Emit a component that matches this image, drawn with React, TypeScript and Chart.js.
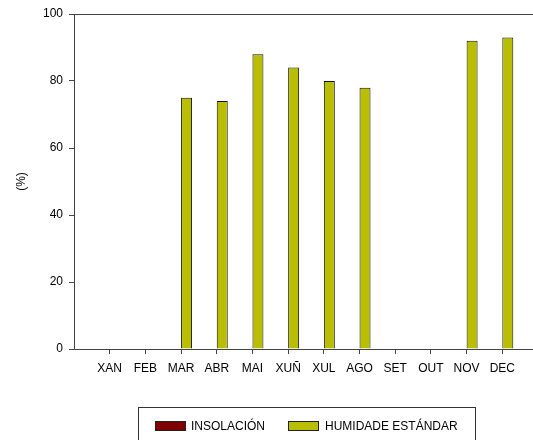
import React, { useEffect, useRef } from "react";
import { Chart, registerables } from "chart.js";

Chart.register(...registerables);

const months = ["XAN", "FEB", "MAR", "ABR", "MAI", "XUÑ", "XUL", "AGO", "SET", "OUT", "NOV", "DEC"];
const insolacion: (number | null)[] = [null, null, null, null, null, null, null, null, null, null, null, null];
const humidade: (number | null)[] = [null, null, 75, 74, 88, 84, 80, 78, null, null, 92, 93];
const yTicks = [0, 20, 40, 60, 80, 100];

const FONT = "'Liberation Sans', Arial, sans-serif";
const AXIS = "#444444";
const RED = "#800000";
const OLIVE = "#B9BF00";

const frameAndLegend = {
  id: "frameAndLegend",
  afterDraw(chart: any) {
    const ctx = chart.ctx as CanvasRenderingContext2D;
    const { left, right, top } = chart.chartArea;
    ctx.save();
    // top frame line
    ctx.strokeStyle = AXIS;
    ctx.lineWidth = 1;
    ctx.beginPath();
    ctx.moveTo(left, Math.round(top) + 0.5);
    ctx.lineTo(right, Math.round(top) + 0.5);
    ctx.stroke();

    // legend box
    ctx.strokeStyle = "#333333";
    ctx.strokeRect(138.5, 407.5, 337, 45);
    ctx.font = "12px " + FONT;
    ctx.textBaseline = "middle";
    ctx.fillStyle = "#000";
    const ds = chart.data.datasets;
    const items = [
      { x: 155, tx: 191 },
      { x: 288, tx: 325 },
    ];
    ds.forEach((d: any, i: number) => {
      const it = items[i];
      ctx.fillStyle = d.backgroundColor;
      ctx.fillRect(it.x, 421, 30, 10);
      ctx.strokeStyle = "#222";
      ctx.strokeRect(it.x + 0.5, 421.5, 30, 9);
      ctx.fillStyle = "#000";
      ctx.fillText(d.label, it.tx, 426.5);
    });
    ctx.restore();
  },
};

export default function App() {
  const ref = useRef<HTMLCanvasElement | null>(null);
  useEffect(() => {
    if (!ref.current) return;
    const labels = ["", ...months, ""];
    const chart = new Chart(ref.current, {
      type: "bar",
      data: {
        labels,
        datasets: [
          {
            label: "INSOLACIÓN",
            data: [null, ...insolacion, null],
            backgroundColor: RED,
            borderColor: "#111",
            borderWidth: 1,
          },
          {
            label: "HUMIDADE ESTÁNDAR",
            data: [null, ...humidade, null],
            backgroundColor: OLIVE,
            borderColor: "#111",
            borderWidth: 1,
          },
        ],
      },
      options: {
        responsive: false,
        animation: false,
        devicePixelRatio: 1,
        layout: { padding: { top: 14, left: 0, right: 0, bottom: 0 } },
        datasets: { bar: { categoryPercentage: 0.615, barPercentage: 1 } },
        plugins: {
          legend: { display: false },
          tooltip: { enabled: false },
        },
        scales: {
          x: {
            offset: false,
            afterFit(scale: any) {
              scale.height = 91;
            },
            grid: {
              offset: false,
              drawOnChartArea: false,
              drawTicks: true,
              tickLength: 5,
              color: AXIS,
              tickColor: (c: any) => (c.index === 0 ? "rgba(0,0,0,0)" : AXIS),
            },
            border: { display: true, color: AXIS, width: 1 },
            ticks: {
              color: "#000",
              font: { family: FONT, size: 12 },
              padding: 7,
              autoSkip: false,
              maxRotation: 0,
            },
          },
          y: {
            min: 0,
            max: 100,
            afterFit(scale: any) {
              scale.width = 74;
            },
            afterBuildTicks(scale: any) {
              scale.ticks = yTicks.map((v) => ({ value: v }));
            },
            grid: { drawOnChartArea: false, drawTicks: true, tickLength: 5, color: AXIS },
            border: { display: true, color: AXIS, width: 1 },
            ticks: {
              color: "#000",
              font: { family: FONT, size: 12 },
              padding: 6,
            },
            title: {
              display: true,
              text: "(%)",
              color: "#000",
              font: { family: FONT, size: 12 },
              padding: { top: 14, bottom: 0 },
            },
          },
        },
      },
      plugins: [frameAndLegend],
    });
    return () => chart.destroy();
  }, []);
  return (
    <div style={{ position: "fixed", left: 0, top: 0, width: 533, height: 440, overflow: "hidden", background: "#fff" }}>
      <canvas ref={ref} width={545} height={440} style={{ display: "block", width: 545, height: 440 }} />
    </div>
  );
}
